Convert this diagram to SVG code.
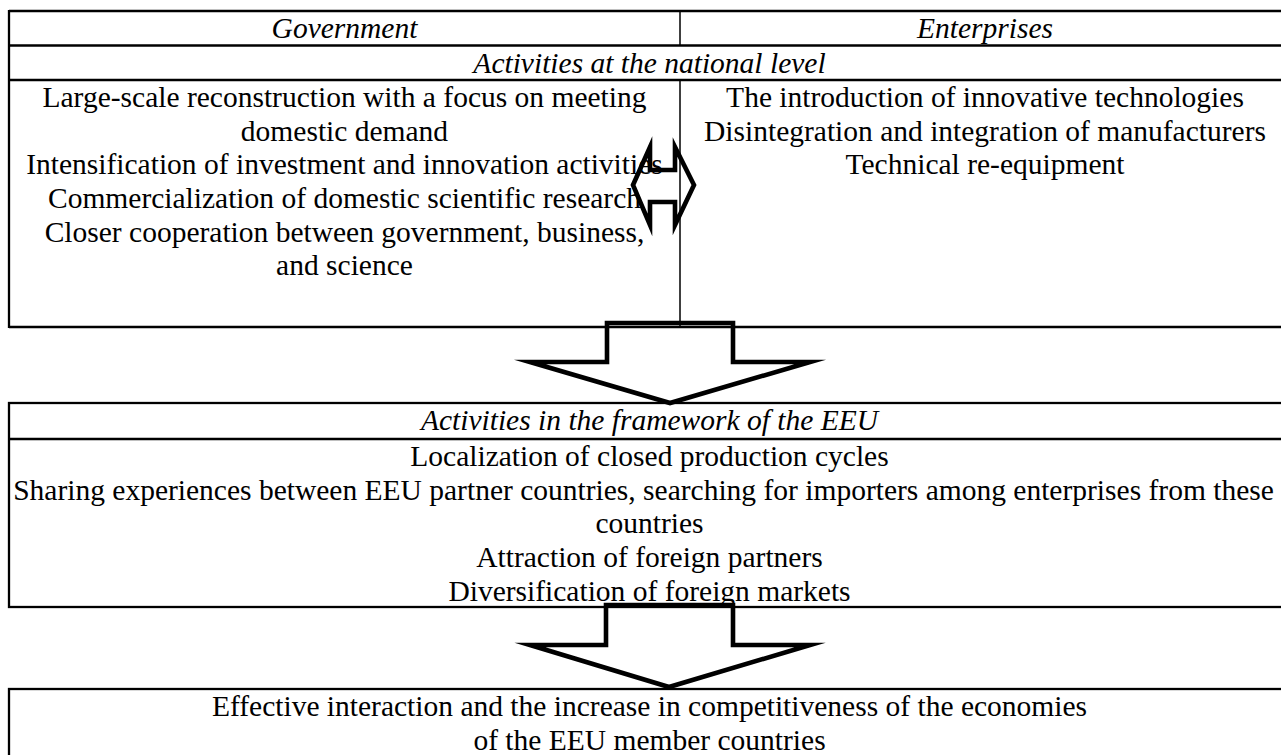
<svg xmlns="http://www.w3.org/2000/svg" width="1281" height="755" viewBox="0 0 1281 755">
  <style>
    .frame { fill: none; stroke: #000; stroke-width: 2.3; }
    .rule { stroke: #000; stroke-width: 2.3; }
    .divider { stroke: #000; stroke-width: 1.5; }
    .arrow { fill: none; stroke: #000; stroke-width: 4.6; stroke-linejoin: miter; stroke-miterlimit: 10; }
    text { font-family: "Liberation Serif", "Times New Roman", serif; font-size: 29.5px; fill: #000; text-anchor: middle; }
    .head { font-style: italic; }
  </style>
  <rect width="1281" height="755" fill="#fff"/>

  <!-- National level table -->
  <g id="national-level">
    <line class="rule" x1="9" y1="11" x2="1290" y2="11"/>
    <line class="rule" x1="9" y1="45.5" x2="1290" y2="45.5"/>
    <line class="rule" x1="9" y1="80" x2="1290" y2="80"/>
    <line class="rule" x1="9" y1="327" x2="1290" y2="327"/>
    <line class="rule" x1="9" y1="10" x2="9" y2="328"/>
    <line class="divider" x1="680" y1="11" x2="680" y2="45.5"/>
    <line class="divider" x1="680" y1="80" x2="680" y2="327"/>
    <text class="head" x="344.5" y="38">Government</text>
    <text class="head" x="985" y="38">Enterprises</text>
    <text class="head" x="649.5" y="72.5">Activities at the national level</text>
    <g id="government-measures">
      <text x="344.5" y="107">Large-scale reconstruction with a focus on meeting</text>
      <text x="344.5" y="140.7">domestic demand</text>
      <text x="344.5" y="174.4">Intensification of investment and innovation activities</text>
      <text x="344.5" y="208">Commercialization of domestic scientific research</text>
      <text x="344.5" y="241.7">Closer cooperation between government, business,</text>
      <text x="344.5" y="275.4">and science</text>
    </g>
    <g id="enterprise-measures">
      <text x="985" y="107">The introduction of innovative technologies</text>
      <text x="985" y="140.7">Disintegration and integration of manufacturers</text>
      <text x="985" y="174.4">Technical re-equipment</text>
    </g>
  </g>

  <!-- EEU framework box -->
  <g id="eeu-framework">
    <rect class="frame" x="9" y="403" width="1290" height="204"/>
    <line class="rule" x1="9" y1="439" x2="1290" y2="439"/>
    <text class="head" x="649.5" y="430">Activities in the framework of the EEU</text>
    <text x="649.5" y="466">Localization of closed production cycles</text>
    <text x="643.5" y="499.6">Sharing experiences between EEU partner countries, searching for importers among enterprises from these</text>
    <text x="649.5" y="533.3">countries</text>
    <text x="649.5" y="567">Attraction of foreign partners</text>
    <text x="649.5" y="600.6">Diversification of foreign markets</text>
  </g>

  <!-- Outcome box -->
  <g id="outcome">
    <rect class="frame" x="9" y="689" width="1290" height="100"/>
    <text x="649.5" y="716">Effective interaction and the increase in competitiveness of the economies</text>
    <text x="649.5" y="749.6">of the EEU member countries</text>
  </g>

  <!-- Block arrows -->
  <g id="connectors">
    <polygon id="link-government-enterprises" class="arrow" points="633,185 650,147 650,170 675,170 675,147 694,185 675,225 675,202 650,202 650,225"/>
    <polygon id="link-national-eeu" class="arrow" points="607,323 733,323 733,362 810,362 670,403 530,362 607,362"/>
    <polygon id="link-eeu-outcome" class="arrow" points="606,605 733,605 733,645 810,645 669,687 530,645 606,645"/>
  </g>
</svg>
